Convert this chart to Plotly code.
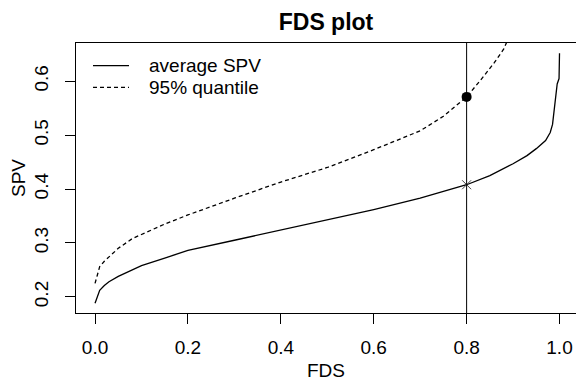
import plotly.graph_objects as go

# FDS grid and curves
fds_avg = [0, 0.005, 0.01, 0.02, 0.03, 0.05, 0.08, 0.1, 0.15, 0.2, 0.3, 0.4, 0.5, 0.6,
           0.7, 0.8, 0.85, 0.9, 0.93, 0.95, 0.97, 0.98, 0.985, 0.99, 0.995, 0.999, 1.0]
spv_avg = [0.188, 0.200, 0.212, 0.221, 0.228, 0.238, 0.250, 0.258, 0.272, 0.286, 0.305,
           0.324, 0.343, 0.362, 0.383, 0.408, 0.425, 0.447, 0.462, 0.475, 0.490, 0.505,
           0.520, 0.560, 0.595, 0.605, 0.652]

fds_q95 = [0, 0.005, 0.01, 0.02, 0.03, 0.05, 0.08, 0.1, 0.15, 0.2, 0.25, 0.3, 0.4, 0.5,
           0.6, 0.65, 0.7, 0.75, 0.8, 0.83, 0.86, 0.88, 0.895]
spv_q95 = [0.225, 0.240, 0.256, 0.266, 0.274, 0.290, 0.308, 0.316, 0.335, 0.352, 0.368,
           0.383, 0.413, 0.440, 0.473, 0.490, 0.508, 0.535, 0.571, 0.602, 0.635, 0.660,
           0.690]

fds_cut = 0.8
spv_avg_cut = 0.408
spv_q95_cut = 0.571

x_ticks = [0.0, 0.2, 0.4, 0.6, 0.8, 1.0]
x_ticklabels = ["0.0", "0.2", "0.4", "0.6", "0.8", "1.0"]
y_ticks = [0.2, 0.3, 0.4, 0.5, 0.6]
y_ticklabels = ["0.2", "0.3", "0.4", "0.5", "0.6"]

legend_labels = ["average SPV", "95% quantile"]
legend_dashes = ["solid", "4px,3px"]

FONT = "Liberation Sans, Arial, sans-serif"

fig = go.Figure()
fig.add_trace(go.Scatter(x=fds_avg, y=spv_avg, mode="lines", name=legend_labels[0],
                         showlegend=False,
                         line=dict(color="black", width=1.3, dash=legend_dashes[0])))
fig.add_trace(go.Scatter(x=fds_q95, y=spv_q95, mode="lines", name=legend_labels[1],
                         showlegend=False,
                         line=dict(color="black", width=1.3, dash=legend_dashes[1])))
fig.add_trace(go.Scatter(x=[fds_cut], y=[spv_q95_cut], mode="markers", showlegend=False,
                         marker=dict(symbol="circle", size=10, color="black")))
fig.add_trace(go.Scatter(x=[fds_cut], y=[spv_avg_cut], mode="markers", showlegend=False,
                         marker=dict(symbol="x-thin", size=9,
                                     line=dict(color="#444444", width=1))))
fig.add_vline(x=fds_cut, line=dict(color="black", width=1))

# legend drawn as in R's legend(): line samples + labels in the top-left corner
legend_rows_y = [0.916, 0.836]
for label, dash, yy in zip(legend_labels, legend_dashes, legend_rows_y):
    fig.add_shape(type="line", xref="paper", yref="paper", x0=0.034, x1=0.106,
                  y0=yy, y1=yy, line=dict(color="black", width=1.3, dash=dash))
    fig.add_annotation(xref="paper", yref="paper", x=0.142, y=yy, text=label,
                       showarrow=False, xanchor="left", yanchor="middle",
                       font=dict(size=19, color="black"))

fig.update_layout(
    width=576, height=383,
    margin=dict(l=76, r=0, t=43, b=70),
    plot_bgcolor="white", paper_bgcolor="white",
    font=dict(family=FONT, size=19, color="black"),
    title=dict(text="<b>FDS plot</b>", x=0.5, xref="paper", xanchor="center",
               y=1 - 22 / 383, yanchor="middle", font=dict(size=23)),
    showlegend=False,
    xaxis=dict(range=[-0.041, 1.0355], tickvals=x_ticks, ticktext=x_ticklabels,
               ticks="outside", ticklen=10, tickcolor="black", tickwidth=1,
               showline=True, linecolor="black", linewidth=1, mirror=True,
               showgrid=False, zeroline=False, ticklabelstandoff=7,
               title=dict(text="FDS", standoff=6, font=dict(size=19))),
    yaxis=dict(range=[0.170, 0.671], tickvals=y_ticks, ticktext=y_ticklabels,
               ticks="outside", ticklen=10, tickcolor="black", tickwidth=1,
               tickangle=-90,
               showline=True, linecolor="black", linewidth=1, mirror=False,
               showgrid=False, zeroline=False, ticklabelstandoff=9,
               title=dict(text="SPV", standoff=0, font=dict(size=19))),
)

fig.write_html("out.html")
